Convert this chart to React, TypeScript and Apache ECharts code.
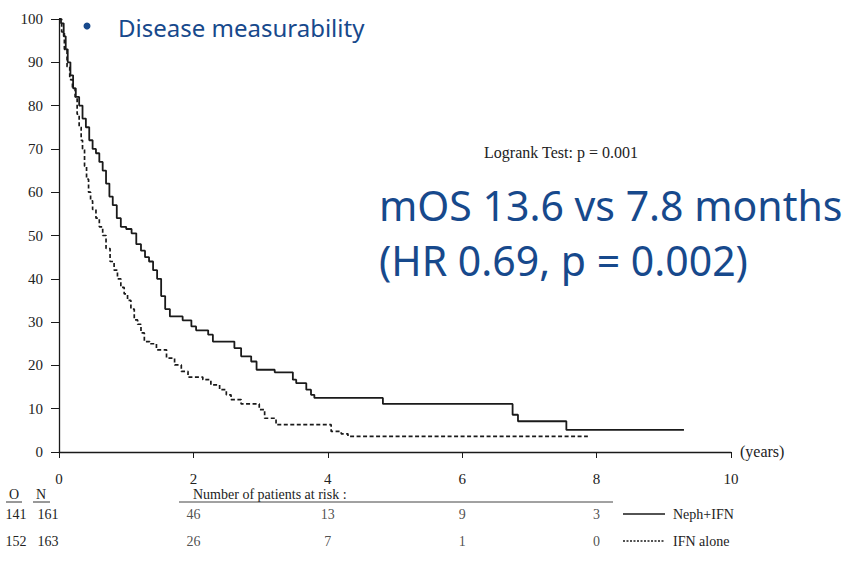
import React, { useEffect, useRef } from "react";
import * as echarts from "echarts";

// Kaplan-Meier curves (time in years, survival in %)
const NEPH_T = [0, 0.03, 0.07, 0.1, 0.13, 0.17, 0.21, 0.25, 0.3, 0.35, 0.4, 0.45, 0.5, 0.55, 0.6, 0.65, 0.7, 0.75, 0.8, 0.86, 0.92, 1.0, 1.08, 1.15, 1.22, 1.28, 1.34, 1.4, 1.46, 1.52, 1.58, 1.65, 1.84, 1.97, 2.04, 2.22, 2.29, 2.61, 2.71, 2.86, 2.94, 3.21, 3.48, 3.53, 3.68, 3.75, 3.8, 4.82, 6.75, 6.83, 7.55, 9.3];
const NEPH_S = [100, 99, 96, 93, 90, 87, 84, 82, 80, 77, 75, 72, 70, 69, 67, 65, 62, 59, 57, 54, 52, 51.5, 50.5, 48, 46.5, 45, 44, 42, 40, 36, 33, 31.3, 30.4, 29, 28.1, 27.1, 25.5, 24, 22.1, 20.9, 19, 18.4, 16.7, 15.9, 14.4, 13.2, 12.5, 11.1, 8.6, 7.1, 5.1, 5.1];

const IFN_T = [0, 0.04, 0.08, 0.12, 0.16, 0.2, 0.24, 0.27, 0.3, 0.33, 0.35, 0.38, 0.41, 0.44, 0.47, 0.5, 0.55, 0.6, 0.65, 0.7, 0.76, 0.82, 0.87, 0.92, 0.97, 1.02, 1.07, 1.12, 1.17, 1.22, 1.27, 1.35, 1.45, 1.6, 1.72, 1.82, 1.92, 2.14, 2.26, 2.39, 2.49, 2.56, 2.71, 2.98, 3.06, 3.23, 4.05, 4.2, 4.3, 7.87];
const IFN_S = [100, 97, 93, 89, 86, 84, 82, 78, 75, 72, 70, 66, 63, 60, 58, 56, 54, 52, 50, 47, 44, 42, 40, 38, 36.5, 35, 33, 30.5, 29.5, 27.5, 25.5, 25, 23.6, 21.7, 20.1, 18.6, 17.3, 16.7, 15.5, 14.4, 13.2, 12.1, 11.1, 9.8, 7.8, 6.3, 4.75, 4.2, 3.6, 3.6];

// Number at risk table
const RISK_TIMES = [2, 4, 6, 8];
const RISK_NEPH = [46, 13, 9, 3];
const RISK_IFN = [26, 7, 1, 0];
const GROUPS = ["Neph+IFN", "IFN alone"];
const OBSERVED = [141, 152];
const TOTAL = [161, 163];

const X_TICKS = [0, 2, 4, 6, 8, 10];
const Y_TICKS = [0, 10, 20, 30, 40, 50, 60, 70, 80, 90, 100];

const SERIF = "'Liberation Serif', 'DejaVu Serif', serif";
const SANS = "'Noto Sans', 'Open Sans', sans-serif";
const BLUE = "#17498c";
const INK = "#1a1a1a";
const TXT = "#222";

export default function App() {
  const ref = useRef<HTMLDivElement>(null);
  useEffect(() => {
    document.body.style.margin = "0";
    const chart = echarts.init(ref.current!, null, { renderer: "svg" });
    const zip = (t: number[], s: number[]) => t.map((v, i) => [v, s[i]]);
    const riskData = (vals: number[], row: number) =>
      RISK_TIMES.map((t, i) => [t, row, vals[i]]);
    const tableText = (x: number, y: number, text: string, align = "left") => ({
      type: "text",
      x,
      y,
      style: { text, font: `14px ${SERIF}`, fill: TXT, textAlign: align, textVerticalAlign: "middle" },
    });

    const option: any = {
      animation: false,
      backgroundColor: "#ffffff",
      grid: [
        { left: 59, right: 119, top: 19, bottom: 127, containLabel: false },
        { left: 59, right: 119, top: 514, bottom: 38, containLabel: false },
      ],
      xAxis: [
        {
          type: "value",
          gridIndex: 0,
          min: 0,
          max: 10,
          interval: 2,
          axisLine: { show: true, lineStyle: { color: INK, width: 1.3 } },
          axisTick: { show: true, length: 6, inside: false, lineStyle: { color: INK } },
          axisLabel: {
            show: true,
            margin: 19,
            fontFamily: SERIF,
            fontSize: 15,
            color: TXT,
            formatter: (v: number) => (X_TICKS.includes(v) ? String(v) : ""),
          },
          splitLine: { show: false },
        },
        { type: "value", gridIndex: 1, min: 0, max: 10, show: false },
      ],
      yAxis: [
        {
          type: "value",
          gridIndex: 0,
          min: 0,
          max: 100,
          interval: 10,
          axisLine: { show: true, lineStyle: { color: INK, width: 1.3 } },
          axisTick: { show: true, length: 8, lineStyle: { color: INK } },
          axisLabel: {
            show: true,
            margin: 16,
            fontFamily: SERIF,
            fontSize: 15,
            color: TXT,
            formatter: (v: number) => (Y_TICKS.includes(v) ? String(v) : ""),
          },
          splitLine: { show: false },
        },
        { type: "value", gridIndex: 1, min: 0, max: 1, show: false },
      ],
      series: [
        {
          name: GROUPS[0],
          type: "line",
          step: "end",
          showSymbol: false,
          data: zip(NEPH_T, NEPH_S),
          lineStyle: { color: INK, width: 1.8 },
        },
        {
          name: GROUPS[1],
          type: "line",
          step: "end",
          showSymbol: false,
          data: zip(IFN_T, IFN_S),
          lineStyle: { color: INK, width: 1.7, type: [4, 2.5] },
        },
        {
          type: "scatter",
          xAxisIndex: 1,
          yAxisIndex: 1,
          symbolSize: 0,
          data: [...riskData(RISK_NEPH, 1), ...riskData(RISK_IFN, 0)],
          label: {
            show: true,
            position: "inside",
            formatter: (p: any) => String(p.value[2]),
            fontFamily: SERIF,
            fontSize: 14,
            color: TXT,
          },
        },
      ],
      graphic: [
        { type: "circle", shape: { cx: 87, cy: 26, r: 3.5 }, style: { fill: BLUE } },
        {
          type: "text",
          x: 118,
          y: 27,
          style: { text: "Disease measurability", font: `24px ${SANS}`, fill: BLUE, textVerticalAlign: "middle" },
        },
        {
          type: "text",
          x: 561,
          y: 152,
          style: { text: "Logrank Test: p = 0.001", font: `16px ${SERIF}`, fill: TXT, textAlign: "center", textVerticalAlign: "middle" },
        },
        {
          type: "text",
          x: 379,
          y: 205,
          style: { text: "mOS 13.6 vs 7.8 months", font: `41px ${SANS}`, fill: BLUE, textVerticalAlign: "middle" },
        },
        {
          type: "text",
          x: 379,
          y: 260,
          style: { text: "(HR 0.69, p = 0.002)", font: `41px ${SANS}`, fill: BLUE, textVerticalAlign: "middle" },
        },
        {
          type: "text",
          x: 740,
          y: 451,
          style: { text: "(years)", font: `16px ${SERIF}`, fill: TXT, textVerticalAlign: "middle" },
        },
        // risk table header
        tableText(14, 494, "O", "center"),
        tableText(41, 494, "N", "center"),
        { type: "line", shape: { x1: 6, y1: 502, x2: 22, y2: 502 }, style: { stroke: "#333", lineWidth: 1 } },
        { type: "line", shape: { x1: 33, y1: 502, x2: 50, y2: 502 }, style: { stroke: "#333", lineWidth: 1 } },
        tableText(193, 494, "Number of patients at risk :"),
        { type: "line", shape: { x1: 179, y1: 502, x2: 613, y2: 502 }, style: { stroke: "#444", lineWidth: 1 } },
        tableText(16, 514, String(OBSERVED[0]), "center"),
        tableText(48, 514, String(TOTAL[0]), "center"),
        tableText(16, 541, String(OBSERVED[1]), "center"),
        tableText(48, 541, String(TOTAL[1]), "center"),
        // legend
        { type: "line", shape: { x1: 623, y1: 514, x2: 665, y2: 514 }, style: { stroke: INK, lineWidth: 1.4 } },
        tableText(673, 514, GROUPS[0]),
        { type: "line", shape: { x1: 623, y1: 541, x2: 665, y2: 541 }, style: { stroke: INK, lineWidth: 1.4, lineDash: [2, 1.5] } },
        tableText(673, 541, GROUPS[1]),
      ],
    };
    chart.setOption(option);
    return () => chart.dispose();
  }, []);
  return <div ref={ref} style={{ position: "fixed", left: 0, top: 0, width: 850, height: 579 }} />;
}
